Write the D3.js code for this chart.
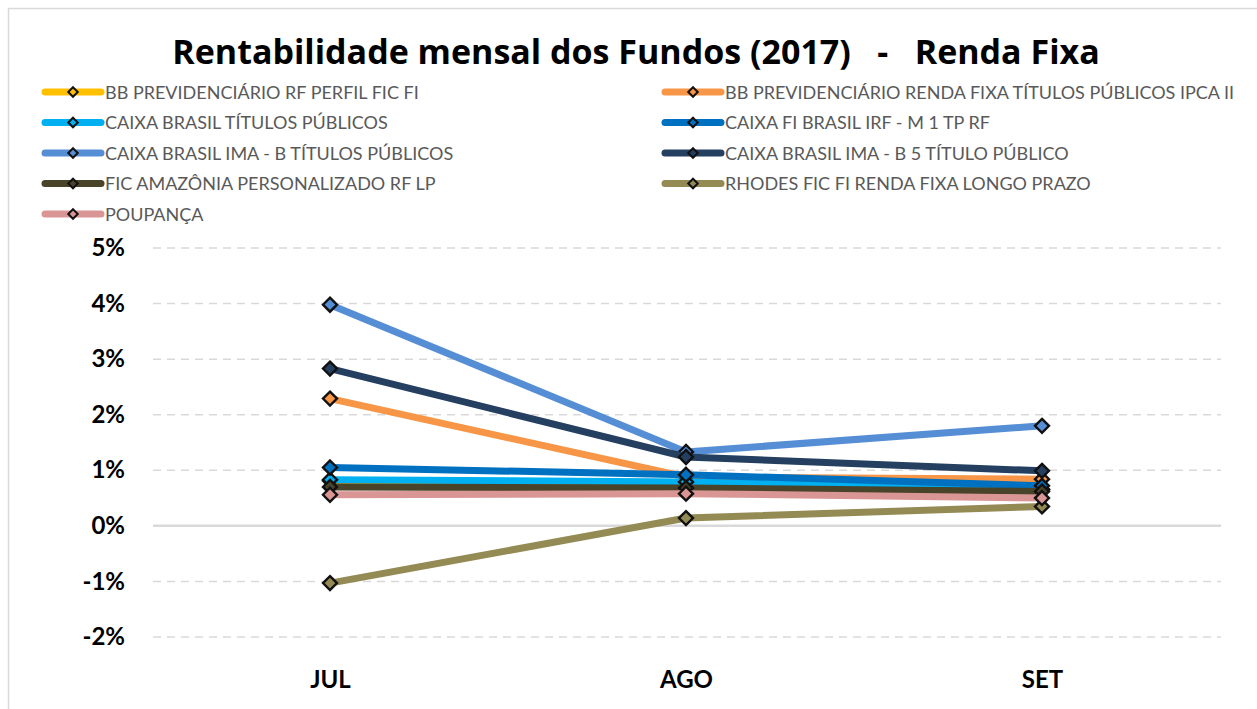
<!DOCTYPE html>
<html>
<head>
<meta charset="utf-8">
<script src="https://cdn.jsdelivr.net/npm/d3@7"></script>
<style>
body { margin: 0; background: #fff; }
svg { display: block; font-family: Lato, "Open Sans", sans-serif; }
</style>
</head>
<body>
<div id="chart"></div>
<script>
var width = 1257,
    height = 709;

var months = ["JUL", "AGO", "SET"];
var yTicks = [-0.02, -0.01, 0, 0.01, 0.02, 0.03, 0.04, 0.05];

var seriesNames = [
    "BB PREVIDENCIÁRIO RF PERFIL FIC FI",
    "BB PREVIDENCIÁRIO RENDA FIXA TÍTULOS PÚBLICOS IPCA II",
    "CAIXA BRASIL TÍTULOS PÚBLICOS",
    "CAIXA FI BRASIL IRF - M 1 TP RF",
    "CAIXA BRASIL IMA - B TÍTULOS PÚBLICOS",
    "CAIXA BRASIL IMA - B 5 TÍTULO PÚBLICO",
    "FIC AMAZÔNIA PERSONALIZADO RF LP",
    "RHODES FIC FI RENDA FIXA LONGO PRAZO",
    "POUPANÇA"
];
var seriesColors = ["#ffc000", "#f79646", "#00b0f0", "#0070c0", "#558ed5", "#243f60", "#494429", "#948a54", "#d99694"];

var bbPerfil   = [0.0081, 0.0078, 0.0065];
var bbIpca     = [0.0229, 0.0088, 0.0084];
var cxTitulos  = [0.0083, 0.0079, 0.0066];
var cxIrfm1    = [0.0105, 0.0092, 0.0072];
var cxImab     = [0.0398, 0.0133, 0.0180];
var cxImab5    = [0.0283, 0.0124, 0.0099];
var amazonia   = [0.0070, 0.0068, 0.0062];
var rhodes     = [-0.0103, 0.0014, 0.0035];
var poupanca   = [0.0056, 0.0058, 0.0050];

var seriesValues = [bbPerfil, bbIpca, cxTitulos, cxIrfm1, cxImab, cxImab5, amazonia, rhodes, poupanca];

var series = seriesNames.map(function(name, i) {
    return { name: name, color: seriesColors[i], values: seriesValues[i] };
});

var svg = d3.select("#chart").append("svg")
    .attr("width", width)
    .attr("height", height);

// outer frame
svg.append("rect")
    .attr("x", 8.5).attr("y", 8.5)
    .attr("width", width + 10).attr("height", height + 10)
    .attr("fill", "none").attr("stroke", "#d9d9d9").attr("stroke-width", 1.5);

svg.append("text")
    .attr("x", 636).attr("y", 64)
    .attr("text-anchor", "middle")
    .attr("font-family", "'Open Sans', Lato, sans-serif")
    .attr("font-size", 34).attr("font-weight", "bold")
    .attr("fill", "#000")
    .attr("xml:space", "preserve")
    .text("Rentabilidade mensal dos Fundos (2017)   -   Renda Fixa");

var x = d3.scalePoint().domain(months).range([330, 1042]);
var y = d3.scaleLinear().domain([-0.02, 0.05]).range([637, 248]);

var plotLeft = 153, plotRight = 1221;

// grid
svg.append("g").selectAll("line")
    .data(yTicks.filter(function(d) { return d !== 0; }))
    .enter().append("line")
    .attr("x1", plotLeft).attr("x2", plotRight)
    .attr("y1", function(d) { return y(d); })
    .attr("y2", function(d) { return y(d); })
    .attr("stroke", "#d9d9d9").attr("stroke-width", 1.5)
    .attr("stroke-dasharray", "8,6");

svg.append("line")
    .attr("x1", plotLeft).attr("x2", plotRight)
    .attr("y1", y(0)).attr("y2", y(0))
    .attr("stroke", "#d9d9d9").attr("stroke-width", 2.5);

// y axis labels (hyphen minus like the original)
var pct = function(d) { return Math.round(d * 100).toString().replace("−", "-") + "%"; };
var yAxis = d3.axisLeft(y).tickValues(yTicks).tickFormat(pct).tickSize(0).tickPadding(0);
var yg = svg.append("g").attr("transform", "translate(125,0)").call(yAxis);
yg.select(".domain").remove();
yg.selectAll("text")
    .attr("font-size", 24).attr("font-weight", "bold")
    .attr("fill", "#000").attr("font-family", "Lato, 'Open Sans', sans-serif");

// x axis labels
var xAxis = d3.axisBottom(x).tickSize(0).tickPadding(0);
var xg = svg.append("g").attr("transform", "translate(0,671)").call(xAxis);
xg.select(".domain").remove();
xg.selectAll("text")
    .attr("font-size", 24).attr("font-weight", "bold")
    .attr("fill", "#000").attr("font-family", "Lato, 'Open Sans', sans-serif");

var line = d3.line()
    .x(function(d, i) { return x(months[i]); })
    .y(function(d) { return y(d); });

var diamond = d3.symbol().type(d3.symbolDiamond2).size(125);

series.forEach(function(s) {
    var g = svg.append("g");
    g.append("path")
        .datum(s.values)
        .attr("d", line)
        .attr("fill", "none")
        .attr("stroke", s.color)
        .attr("stroke-width", 7);
    g.selectAll("path.m")
        .data(s.values)
        .enter().append("path")
        .attr("class", "m")
        .attr("transform", function(d, i) { return "translate(" + x(months[i]) + "," + y(d) + ")"; })
        .attr("d", diamond)
        .attr("fill", s.color)
        .attr("stroke", "#111")
        .attr("stroke-width", 2.4);
});

// legend
var legend = svg.append("g");
series.forEach(function(s, i) {
    var col = i % 2, row = Math.floor(i / 2);
    var lx = col === 0 ? 45 : 665,
        ly = 92 + row * 30.5;
    var item = legend.append("g").attr("transform", "translate(" + lx + "," + ly + ")");
    item.append("line")
        .attr("x1", 0).attr("x2", 56)
        .attr("stroke", s.color).attr("stroke-width", 7)
        .attr("stroke-linecap", "round");
    item.append("path")
        .attr("transform", "translate(28,0)")
        .attr("d", d3.symbol().type(d3.symbolDiamond2).size(58))
        .attr("fill", s.color).attr("stroke", "#111").attr("stroke-width", 2);
    item.append("text")
        .attr("x", 60).attr("y", 6.5)
        .attr("font-size", 18)
        .attr("fill", "#595959")
        .text(s.name);
});
</script>
</body>
</html>
